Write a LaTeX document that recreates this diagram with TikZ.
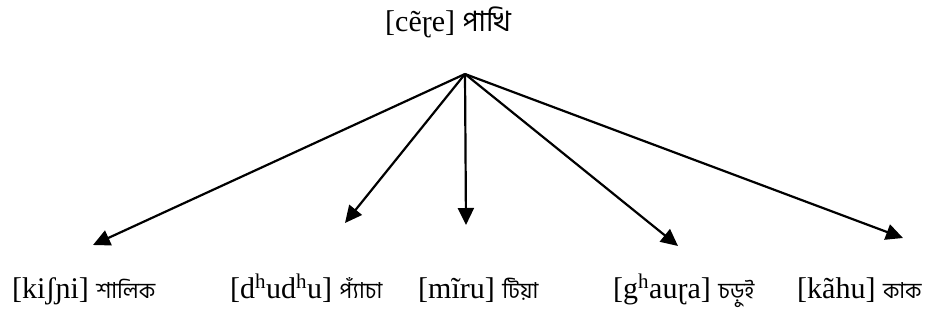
\documentclass[tikz,border=0pt]{standalone}
\usepackage{fontspec}
\setmainfont{Liberation Serif}
\newfontfamily\bnfont[Script=Bengali]{Hind Siliguri}
\usetikzlibrary{arrows.meta}
\newcommand{\bn}[2][22]{{\fontsize{#1}{26}\selectfont\bnfont #2}}
\begin{document}
\begin{tikzpicture}[x=1pt,y=-1pt,
  word/.style={anchor=base west,inner sep=0pt,font=\fontsize{30}{36}\selectfont},
  branch/.style={line width=2.2pt,-{Triangle[length=17pt,width=16pt]}}]
\useasboundingbox (0,0) rectangle (942,323);

% root word
\node[word] (root) at (385,32) {[cẽɽe] \bn[28]{পাখি}};
\coordinate (hub) at (465,74);

% arrow ends
\coordinate (t1) at (93,245);
\coordinate (t2) at (345,223);
\coordinate (t3) at (466,225);
\coordinate (t4) at (678,246);
\coordinate (t5) at (903,238);

% leaf words
\node[word] (w1) at (12,298) {[kiʃɲi] \bn{শালিক}};
\node[word] (w2) at (230,298) {[d\textsuperscript{h}ud\textsuperscript{h}u] \bn{প্যাঁচা}};
\node[word] (w3) at (418,298) {[mĩru] \bn{টিয়া}};
\node[word] (w4) at (613,298) {[g\textsuperscript{h}auɽa] \bn{চড়ুই}};
\node[word] (w5) at (797,298) {[kãhu] \bn{কাক}};

\foreach \t in {t1,t2,t3,t4,t5}
  \draw[branch] (hub) -- (\t);
\end{tikzpicture}
\end{document}
